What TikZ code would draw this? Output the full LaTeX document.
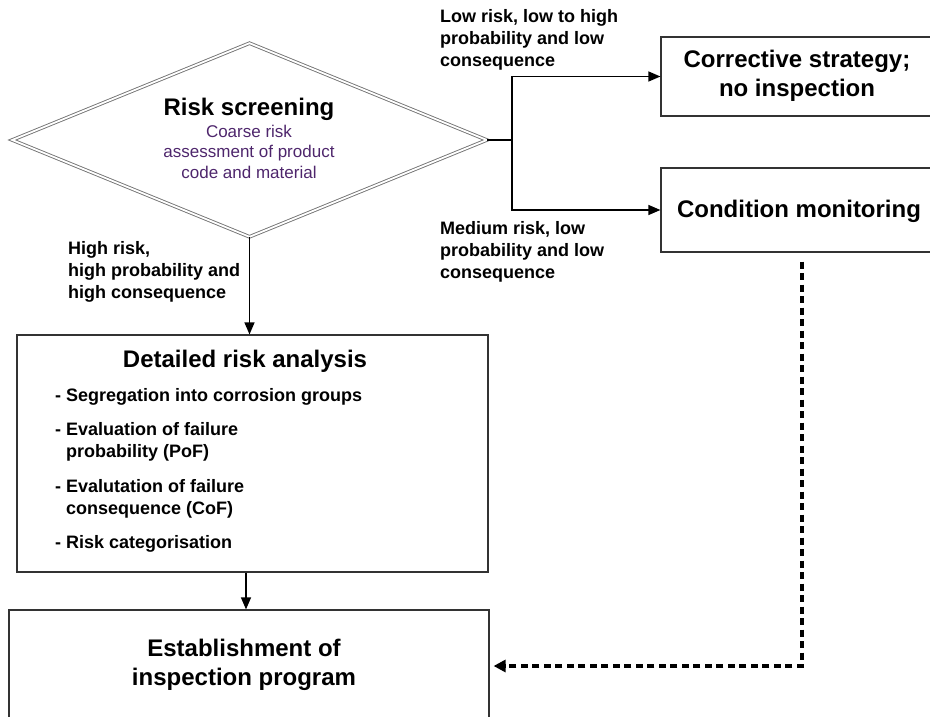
\documentclass[tikz,border=0pt]{standalone}
\usepackage{fontspec}
\setmainfont{Liberation Sans}
\usetikzlibrary{arrows.meta,shapes.geometric}
\definecolor{subtxt}{RGB}{78,38,108}
\begin{document}
\begin{tikzpicture}[x=1pt,y=-1pt,
  frame/.style={draw=black!80, line width=1.2pt, rectangle, inner sep=0pt},
  decision/.style={diamond, draw=black!55, double=white, double distance=1.8pt,
    line width=0.9pt, inner sep=0pt, aspect=2.45,
    minimum width=475pt, minimum height=194pt},
  title/.style={inner sep=0pt, align=center,
    font=\fontsize{24}{29}\selectfont\bfseries},
  subt/.style={inner sep=0pt, align=center, text=subtxt,
    font=\fontsize{17}{20.5}\selectfont},
  lbl/.style={inner sep=0pt, align=left,
    font=\fontsize{18}{22}\selectfont\bfseries},
  item/.style={inner sep=0pt, align=left, anchor=base west,
    font=\fontsize{18}{22}\selectfont\bfseries},
  conn/.style={draw=black, line width=1.3pt},
  arr/.style={conn, -{Triangle[length=12pt,width=10pt]}},
  dotconn/.style={draw=black, line width=4pt, dash pattern=on 7pt off 4.5pt,
    -{Triangle[length=12pt,width=12pt]}}
]
\useasboundingbox (0,0) rectangle (930,717);
\clip (0,0) rectangle (930,717);

% decision and boxes
\node[decision] (risk) at (249.5,140) {};
\node[frame, minimum width=275pt, minimum height=79pt]  (corr)   at (798.5,76.5) {};
\node[frame, minimum width=275pt, minimum height=84pt]  (cond)   at (798.5,210) {};
\node[frame, minimum width=471pt, minimum height=237pt] (detail) at (252.5,453.5) {};
\node[frame, minimum width=480pt, minimum height=112pt] (estab)  at (249,666) {};

% texts of the decision (base = baseline of the last line)
\node[title, anchor=base] (riskT) at (249,115) {Risk screening};
\node[subt, anchor=base] (riskS) at (249,178) {Coarse risk\\assessment of product\\code and material};

% box titles
\node[title, anchor=base] (corrT)   at (797,97)  {Corrective strategy;\\no inspection};
\node[title, anchor=base] (condT)   at (799,217) {Condition monitoring};
\node[title, anchor=base] (detailT) at (245,367) {Detailed risk analysis};
\node[title, anchor=base] (estabT)  at (244,685) {Establishment of\\inspection program};

% steps of the detailed analysis
\node[item] (itA) at (55,401) {- Segregation into corrosion groups};
\node[item] (itB) at (55,457) {- Evaluation of failure\\\hphantom{- }probability (PoF)};
\node[item] (itC) at (55,514) {- Evalutation of failure\\\hphantom{- }consequence (CoF)};
\node[item] (itD) at (55,548) {- Risk categorisation};

% branch labels
\node[lbl, anchor=base west] (lowL)  at (440,67)  {Low risk, low to high\\probability and low\\consequence};
\node[lbl, anchor=base west] (medL)  at (440,278) {Medium risk, low\\probability and low\\consequence};
\node[lbl, anchor=base west] (highL) at (68,298)  {High risk,\\high probability and\\high consequence};

% connectors
\coordinate (split) at (512,140);
\draw[conn, line width=2pt] (risk.east) -- (split);
\draw[arr] (split) |- (corr.west);
\draw[arr] (split) |- (cond.west);
\draw[arr] (risk.south) -- (risk.south |- detail.north);
\draw[arr] ([xshift=-6.5pt]detail.south) -- ([xshift=-3pt]estab.north);
\draw[dotconn] ([xshift=3.5pt,yshift=-9pt]cond.south) |- ([xshift=4pt]estab.east);
\end{tikzpicture}
\end{document}
